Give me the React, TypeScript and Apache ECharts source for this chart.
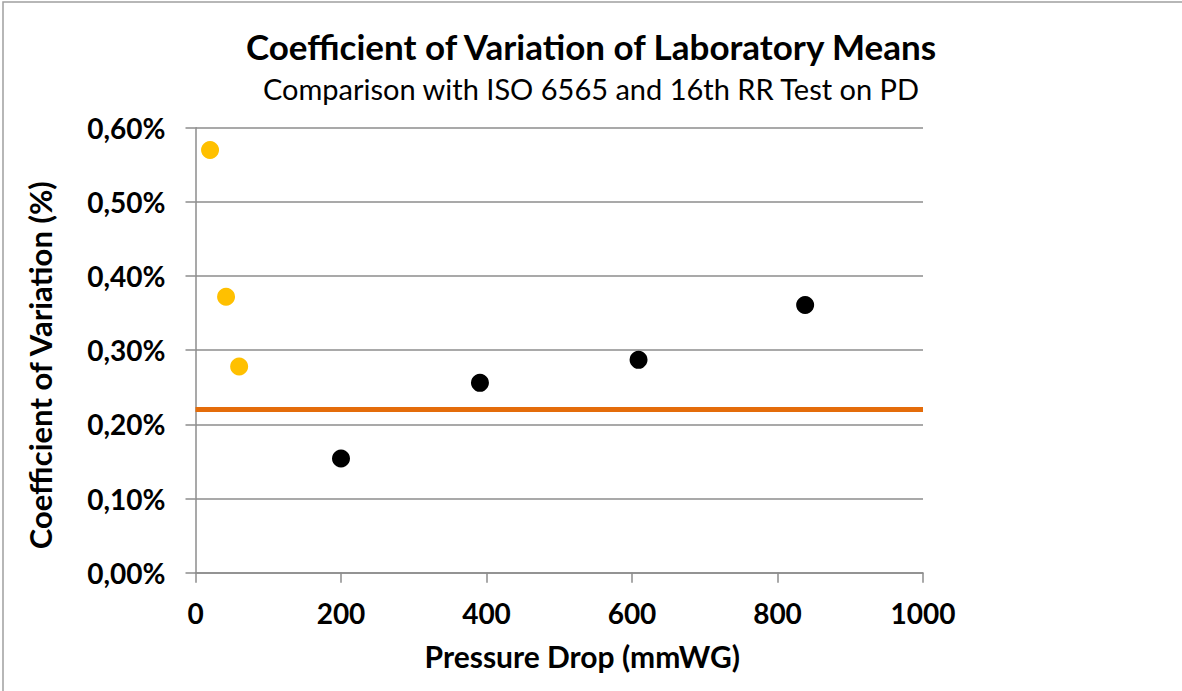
import React, { useEffect, useRef } from "react";
import * as echarts from "echarts";

const titleText = "Coefficient of Variation of Laboratory Means";
const subtitleText = "Comparison with ISO 6565 and 16th RR Test on PD";
const xAxisName = "Pressure Drop (mmWG)";
const yAxisName = "Coefficient of Variation (%)";

// Pressure drop (mmWG) / coefficient of variation (%)
const isoPressure = [20, 42, 60];
const isoCv = [0.57, 0.372, 0.278];
const rrPressure = [200, 391, 609, 838];
const rrCv = [0.154, 0.256, 0.287, 0.361];
const refLineX = [0, 1000];
const refLineCv = [0.22, 0.22];

const FONT = "Lato, 'Open Sans', sans-serif";

export default function App() {
  const ref = useRef<HTMLDivElement>(null);
  useEffect(() => {
    document.body.style.margin = "0";
    const chart = echarts.init(ref.current!, null, { renderer: "svg" });
    const fmt = (v: number) => v.toFixed(2).replace(".", ",") + "%";
    chart.setOption({
      animation: false,
      backgroundColor: "#ffffff",
      textStyle: { fontFamily: FONT },
      title: [
        {
          text: titleText,
          left: "center",
          top: 23,
          textStyle: { fontFamily: FONT, fontSize: 35, fontWeight: "bold", color: "#000" },
        },
        {
          text: subtitleText,
          left: "center",
          top: 69,
          textStyle: { fontFamily: FONT, fontSize: 29, fontWeight: "normal", color: "#000" },
        },
      ],
      graphic: [
        {
          type: "rect",
          shape: { x: 3, y: 2, width: 1200, height: 720 },
          style: { fill: "none", stroke: "#a0a0a0", lineWidth: 1.5 },
          silent: true,
        },
      ],
      grid: { left: 195.5, right: 259, top: 127.7, bottom: 118.3 },
      xAxis: {
        type: "value",
        min: 0,
        max: 1000,
        interval: 200,
        name: xAxisName,
        nameLocation: "middle",
        nameGap: 68,
        nameTextStyle: {
          fontFamily: FONT,
          fontSize: 30,
          fontWeight: "bold",
          color: "#000",
          padding: [0, 0, 0, 46],
        },
        axisLine: { show: true, lineStyle: { color: "#8c8c8c", width: 1.5 } },
        axisTick: { show: true, length: 10, lineStyle: { color: "#8c8c8c", width: 1.5 } },
        splitLine: { show: false },
        axisLabel: {
          margin: 26,
          formatter: (v: number) => String(v),
          fontFamily: FONT,
          fontSize: 28,
          fontWeight: "bold",
          color: "#000",
        },
      },
      yAxis: {
        type: "value",
        min: 0,
        max: 0.6,
        interval: 0.1,
        name: yAxisName,
        nameLocation: "middle",
        nameGap: 140,
        nameTextStyle: {
          fontFamily: FONT,
          fontSize: 31,
          fontWeight: "bold",
          color: "#000",
          padding: [0, 30, 0, 0],
        },
        axisLine: { show: true, lineStyle: { color: "#8c8c8c", width: 1.5 } },
        axisTick: { show: true, length: 10, lineStyle: { color: "#8c8c8c", width: 1.5 } },
        splitLine: { show: true, lineStyle: { color: "#8c8c8c", width: 1.5 } },
        axisLabel: {
          margin: 30,
          formatter: fmt,
          fontFamily: FONT,
          fontSize: 28,
          fontWeight: "bold",
          color: "#000",
        },
      },
      series: [
        {
          type: "line",
          data: refLineX.map((x, i) => [x, refLineCv[i]]),
          showSymbol: false,
          symbol: "none",
          lineStyle: { color: "#E46C0A", width: 5 },
          z: 1,
        },
        {
          type: "scatter",
          data: isoPressure.map((x, i) => [x, isoCv[i]]),
          symbolSize: 18,
          itemStyle: { color: "#FFC000", opacity: 1 },
          z: 3,
        },
        {
          type: "scatter",
          data: rrPressure.map((x, i) => [x, rrCv[i]]),
          symbolSize: 18,
          itemStyle: { color: "#000000", opacity: 1 },
          z: 3,
        },
      ],
    });
    return () => chart.dispose();
  }, []);
  return <div ref={ref} style={{ width: 1182, height: 691 }} />;
}
